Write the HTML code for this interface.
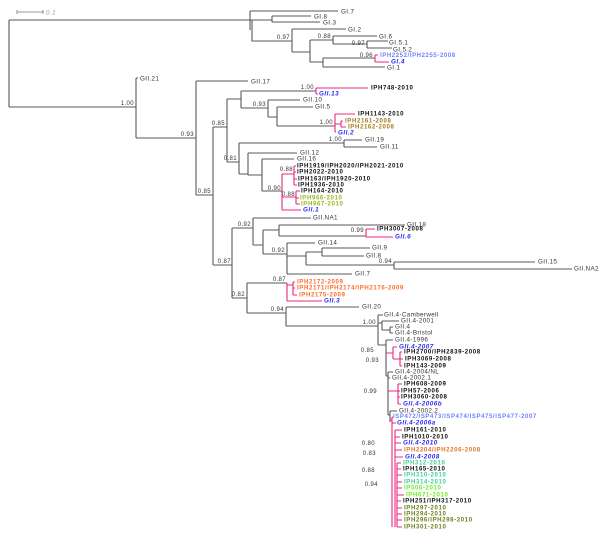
<!DOCTYPE html>
<html><head><meta charset="utf-8"><style>
html,body{margin:0;padding:0;background:#fff;}
svg{display:block;}
text{font-family:"Liberation Sans",sans-serif;font-size:6.3px;letter-spacing:0.35px;fill:#333;dominant-baseline:central;}
.b{font-weight:bold;fill:#111;letter-spacing:0.6px;font-size:6.1px;}
.s{font-size:6px;letter-spacing:0.4px;fill:#333;text-anchor:end;dominant-baseline:auto;}
.g{font-weight:bold;font-style:italic;fill:#2a2aff;letter-spacing:0.5px;}
.lb{fill:#7080ff;letter-spacing:0.6px;font-weight:bold;font-size:6px;}
.br{fill:#a57a1e;}.yg{fill:#99b81c;}.or{fill:#ff6a2a;}.ob{fill:#e07822;}
.te{fill:#3fcf9c;}.gr{fill:#6aee1e;}.ol{fill:#6e7f1c;}
</style></head><body>
<svg width="600" height="533" viewBox="0 0 600 533" xmlns="http://www.w3.org/2000/svg">
<g fill="none" stroke="#5a5a5a" stroke-width="1.1">
<path d="M17 12H43M17 10V14M43 10V14" stroke="#999"/>
<path d="M9 20V107M9 20H250M9 107H136"/>
<path d="M250 11V30M250 11H338M250 20H272M272 16V22M272 16H311M272 22H320M252 20V41H292"/>
<path d="M292 29V52M292 29H346M292 52H310M310 40V62M310 40H333M333 36V44M333 36H377M333 44H367M367 41V48M367 41H388M367 48H392M310 62H323M323 58V67M323 58H375M323 67H385"/>
<path d="M136 78V138M136 78H138M136 138H196M196 81V195M196 81H248M196 195H213M213 127V265M213 127H227M213 265H232"/>
<path d="M227 99V162M227 99H241M227 162H239M241 91V108M241 91H316M241 108H268M268 100V117M268 100H300M268 117H277M277 107V126M277 107H313M277 126H335"/>
<path d="M239 143V174M239 143H344M344 140V147M344 140H362M344 147H377M239 174H248M248 153V175M248 153H297M248 175H262M262 159V191M262 159H294M262 191H282"/>
<path d="M232 228V298M232 228H253M232 298H247M253 218V245M253 218H311M253 245H263M263 230V254M263 230H279M279 225V236M279 225H405M279 236H366M263 254H287M287 243V274M287 243H315M287 256H306M287 274H352M306 252V265M306 252H322M322 248V256M322 248H370M322 256H364M306 265H394M394 262V269M394 262H535M394 269H572"/>
<path d="M247 283V313M247 283H287M247 313H286M286 307V326M286 307H359M286 326H378"/>
<path d="M378 315V345M378 315H383M378 323H382M382 321V330M382 321H399M382 330H390M390 327V333M390 327H393M390 333H393M378 345H386M386 340V376M386 340H393M386 376H388M388 372V415M388 372H393M388 378H390M388 415H390M390 411V422M390 411H397"/>
</g>
<g fill="none" stroke="#e8287f" stroke-width="1.1">
<path d="M375 55V62M375 55H378M375 62H389"/>
<path d="M316 88V94M316 88H368M316 94H318"/>
<path d="M335 114V132M335 114H355M335 124H341M341 121V127M341 121H343M341 127H346M335 132H336"/>
<path d="M366 229V237M366 229H375M366 237H393"/>
<path d="M282 174V210M282 174H294M294 166V185M294 166H296M294 172H296M294 179H297M294 185H297M282 197H296M296 191V204M296 191H300M296 198H299M296 204H300M282 210H301"/>
<path d="M287 283V301M287 285H293M293 282V295M293 282H295M293 288H295M293 295H297M287 301H322"/>
<path d="M386 353H393M393 347V359M393 347H397M393 359H400M400 352V366M400 352H402M400 359H403M400 366H402"/>
<path d="M388 391H398M398 384V404M398 384H402M398 391H400M398 397H400M398 404H401"/>
<path d="M390 420H392M392 417V527M392 417H393M392 423H396M395 430V527M395 430H402M395 437H400M395 443H401M395 450H402M395 457H403M397 463V527M397 463H401M397 469H401M397 475H402M397 482H402M397 488H402M397 495H404M397 501H401M397 508H402M397 514H402M397 520H402M397 527H402"/>
</g>
<text x="46" y="13" style="font-style:italic;fill:#999">0.1</text>
<text x="341" y="12">GI.7</text><text x="314" y="17">GI.8</text><text x="323" y="23">GI.3</text>
<text x="348" y="30">GI.2</text><text x="379" y="37">GI.6</text><text x="389" y="43">GI.5.1</text><text x="393" y="50">GI.5.2</text>
<text x="380" y="56" class="lb">IPH2252/IPH2255-2008</text><text x="391" y="62" class="g">GI.4</text><text x="387" y="68">GI.1</text>
<text class="s" x="290" y="39">0.97</text><text class="s" x="331" y="38">0.88</text><text class="s" x="365" y="45">0.97</text><text class="s" x="373" y="57">0.96</text>
<text x="140" y="79">GII.21</text><text class="s" x="134" y="105">1.00</text>
<text x="251" y="82">GII.17</text><text class="s" x="194" y="136">0.93</text>
<text class="s" x="225" y="125">0.85</text><text class="s" x="211" y="193">0.85</text><text class="s" x="237" y="160">0.81</text>
<text class="s" x="314" y="89">1.00</text><text x="371" y="88" class="b">IPH748-2010</text><text x="319" y="94" class="g">GII.13</text>
<text class="s" x="266" y="106">0.93</text><text x="303" y="100">GII.10</text><text x="315" y="107">GII.5</text>
<text class="s" x="333" y="124">1.00</text><text x="358" y="114" class="b">IPH1143-2010</text>
<text x="345" y="121" class="b br">IPH2161-2008</text><text x="348" y="127" class="b br">IPH2162-2008</text><text x="338" y="133" class="g">GII.2</text>
<text class="s" x="342" y="141">1.00</text><text x="365" y="140">GII.19</text><text x="380" y="147">GII.11</text>
<text x="300" y="153">GII.12</text><text x="297" y="159">GII.16</text>
<text class="s" x="293" y="171">0.88</text><text class="s" x="281" y="190">0.90</text><text class="s" x="295" y="196">0.88</text>
<text x="297" y="166" class="b">IPH1919/IPH2020/IPH2021-2010</text><text x="297" y="172" class="b">IPH2022-2010</text>
<text x="298" y="179" class="b">IPH163/IPH1920-2010</text><text x="298" y="185" class="b">IPH1936-2010</text>
<text x="301" y="191" class="b">IPH164-2010</text><text x="300" y="198" class="b yg">IPH966-2010</text><text x="301" y="204" class="b yg">IPH967-2010</text>
<text x="303" y="210" class="g">GII.1</text>
<text x="313" y="218">GII.NA1</text><text class="s" x="251" y="226">0.92</text><text x="407" y="225">GII.18</text>
<text class="s" x="364" y="232">0.99</text><text x="377" y="229" class="b">IPH3007-2008</text><text x="395" y="237" class="g">GII.6</text>
<text x="318" y="243">GII.14</text><text class="s" x="285" y="252">0.92</text><text x="372" y="248">GII.9</text><text x="366" y="256">GII.8</text>
<text class="s" x="392" y="263">0.94</text><text x="538" y="262">GII.15</text><text x="574" y="269">GII.NA2</text><text x="355" y="274">GII.7</text>
<text class="s" x="231" y="263">0.87</text><text class="s" x="245" y="296">0.82</text>
<text class="s" x="286" y="281">0.87</text>
<text x="297" y="282" class="b or">IPH2172-2009</text><text x="297" y="288" class="b or">IPH2171/IPH2174/IPH2176-2009</text>
<text x="299" y="295" class="b or">IPH2175-2009</text><text x="324" y="301" class="g">GII.3</text>
<text class="s" x="284" y="311">0.94</text><text x="362" y="307">GII.20</text><text class="s" x="376" y="324">1.00</text>
<text x="384" y="315">GII.4-Camberwell</text><text x="401" y="321">GII.4-2001</text><text x="395" y="327">GII.4</text>
<text x="395" y="333">GII.4-Bristol</text><text x="395" y="340">GII.4-1996</text><text x="399" y="347" class="g">GII.4-2007</text>
<text x="404" y="352" class="b">IPH2700/IPH2839-2008</text><text x="405" y="359" class="b">IPH3069-2008</text><text x="404" y="366" class="b">IPH143-2009</text>
<text x="395" y="372">GII.4-2004/NL</text><text x="392" y="378">GII.4-2002.1</text>
<text x="404" y="384" class="b">IPH608-2009</text><text x="401" y="391" class="b">IPH57-2006</text><text x="401" y="397" class="b">IPH3060-2008</text>
<text x="403" y="404" class="g">GII.4-2006b</text><text x="399" y="411">GII.4-2002.2</text>
<text x="393" y="417" class="lb">ISP472/ISP473/ISP474/ISP475/ISP477-2007</text><text x="397" y="423" class="g">GII.4-2006a</text>
<text x="404" y="430" class="b">IPH161-2010</text><text x="402" y="437" class="b">IPH1010-2010</text><text x="403" y="443" class="g">GII.4-2010</text>
<text x="404" y="450" class="b ob">IPH2204/IPH2206-2008</text><text x="405" y="457" class="g">GII.4-2008</text>
<text x="403" y="463" class="b te">IPH312-2010</text><text x="403" y="469" class="b">IPH165-2010</text>
<text x="404" y="475" class="b te">IPH310-2010</text><text x="404" y="482" class="b te">IPH314-2010</text>
<text x="404" y="488" class="b gr">IP506-2010</text><text x="406" y="495" class="b gr">IPH671-2010</text>
<text x="403" y="501" class="b">IPH251/IPH317-2010</text><text x="404" y="508" class="b ol">IPH297-2010</text>
<text x="404" y="514" class="b ol">IPH294-2010</text><text x="404" y="520" class="b ol">IPH296/IPH298-2010</text><text x="404" y="527" class="b ol">IPH301-2010</text>
<text class="s" x="374" y="352">0.85</text><text class="s" x="379" y="362">0.93</text><text class="s" x="377" y="393">0.99</text>
<text class="s" x="375" y="445">0.80</text><text class="s" x="376" y="455">0.83</text><text class="s" x="375" y="472">0.88</text><text class="s" x="378" y="486">0.94</text>
</svg>
</body></html>
